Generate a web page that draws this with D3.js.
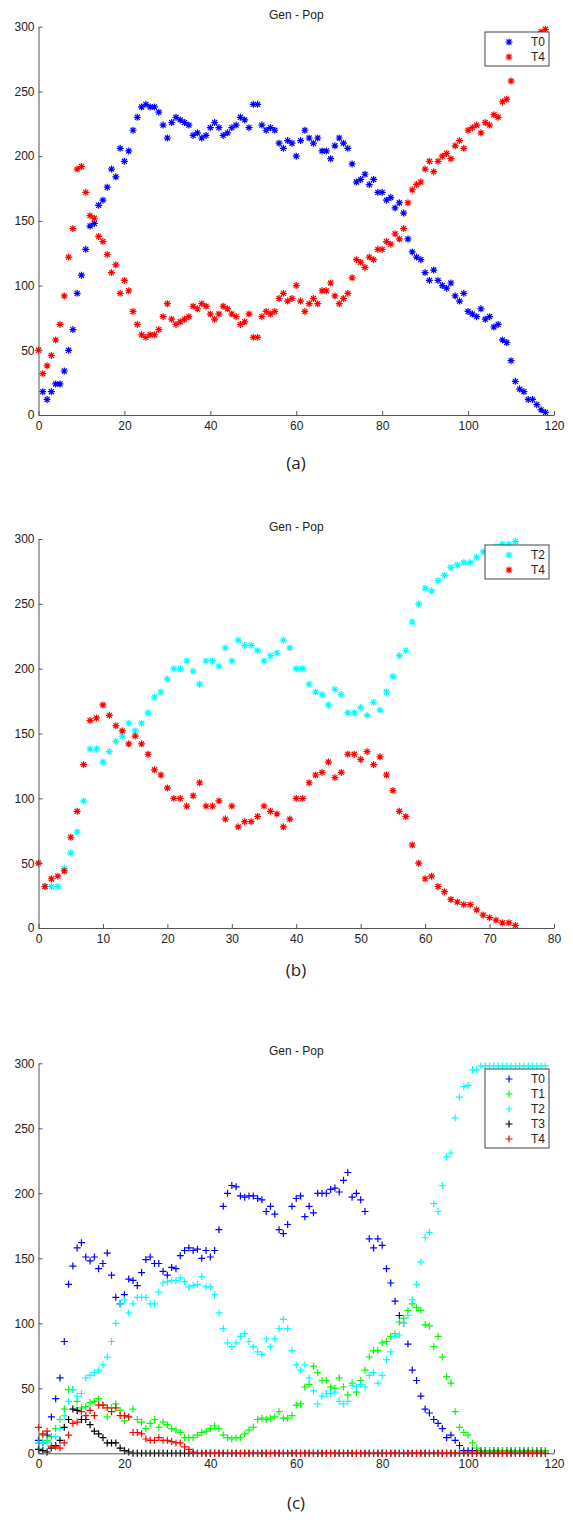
<!DOCTYPE html>
<html>
<head>
<meta charset="utf-8">
<script src="https://cdnjs.cloudflare.com/ajax/libs/d3/7.8.5/d3.min.js"></script>
<style>
    body { margin: 0; background: #fff; }
    svg { display: block; }
    text { font-family: "Liberation Sans", Arial, sans-serif; fill: #222; }
</style>
</head>
<body>
<svg id="chart"></svg>
<script>

// data (generation index = position in array, null = not plotted)

var yTicks = [0, 50, 100, 150, 200, 250, 300],
    xTicksA = [0, 20, 40, 60, 80, 100, 120],
    xTicksB = [0, 10, 20, 30, 40, 50, 60, 70, 80],
    xTicksC = [0, 20, 40, 60, 80, 100, 120];

var panelLabels = ["(a)", "(b)", "(c)"];
var chartTitle = "Gen - Pop";

// (a)
var a_T0 = [null, 18, 12, 18, 24, 24, 34, 50, 66, 94,
    108, 128, 146, 148, 162, 166, 176, 190, 184, 206,
    196, 204, 220, 230, 238, 240, 238, 238, 234, 224,
    214, 226, 230, 228, 226, 224, 216, 218, 214, 216,
    222, 226, 222, 216, 218, 222, 224, 230, 228, 222,
    240, 240, 224, 220, 222, 220, 210, 206, 212, 210,
    200, 212, 220, 214, 210, 214, 204, 204, 198, 208,
    214, 210, 206, 194, 180, 182, 186, 178, 182, 172,
    172, 166, 168, 160, 164, 156, 136, 126, 122, 120,
    110, 104, 112, 104, 100, 98, 102, 92, 88, 94,
    80, 78, 76, 82, 74, 76, 68, 70, 58, 56,
    42, 26, 20, 18, 12, 12, 8, 4, 2];

var a_T4 = [50, 32, 38, 46, 58, 70, 92, 122, 144, 190,
    192, 172, 154, 152, 138, 134, 124, 110, 116, 94,
    104, 96, 80, 70, 62, 60, 62, 62, 66, 76,
    86, 74, 70, 72, 74, 76, 84, 82, 86, 84,
    78, 74, 78, 84, 82, 78, 76, 70, 72, 78,
    60, 60, 76, 80, 78, 80, 90, 94, 88, 90,
    100, 88, 80, 86, 90, 86, 96, 96, 102, 92,
    86, 90, 94, 106, 120, 118, 114, 122, 120, 128,
    128, 134, 132, 140, 136, 144, 164, 174, 178, 180,
    190, 196, 188, 196, 200, 202, 198, 208, 212, 206,
    220, 222, 224, 218, 226, 224, 232, 230, 242, 244,
    258, 274, 278, 282, 284, 288, 292, 296, 298];

// (b)
var b_T2 = [null, 32, 32, 32, 46, 58, 74, 98, 138, 138,
    128, 136, 144, 148, 158, 152, 158, 166, 178, 182,
    192, 200, 200, 206, 198, 188, 206, 206, 202, 216,
    206, 222, 218, 218, 214, 206, 210, 212, 222, 216,
    200, 200, 188, 182, 180, 172, 184, 180, 166, 166,
    170, 164, 174, 168, 182, 194, 210, 214, 236, 250,
    262, 260, 268, 272, 278, 280, 282, 282, 286, 290,
    292, 294, 296, 296, 298];

var b_T4 = [50, 32, 38, 40, 44, 70, 90, 126, 160, 162,
    172, 164, 156, 152, 142, 148, 142, 134, 122, 118,
    108, 100, 100, 94, 102, 112, 94, 94, 98, 84,
    94, 78, 82, 82, 86, 94, 90, 88, 78, 84,
    100, 100, 112, 118, 120, 128, 116, 120, 134, 134,
    130, 136, 126, 132, 118, 106, 90, 86, 64, 50,
    38, 40, 32, 28, 22, 20, 18, 18, 14, 10,
    8, 6, 4, 4, 2];

// (c)
var c_T0 = [10, 8, 14, 28, 42, 58, 86, 130, 144, 158,
    162, 151, 148, 151, 142, 146, 154, 137, 120, 115,
    122, 134, 133, 129, 139, 149, 151, 146, 146, 140,
    137, 143, 142, 152, 156, 158, 156, 157, 150, 156,
    151, 156, 172, 190, 200, 206, 205, 198, 197, 198,
    198, 196, 195, 186, 190, 184, 172, 169, 176, 190,
    196, 198, 182, 190, 185, 200, 200, 200, 203, 204,
    201, 210, 216, 197, 200, 195, 186, 165, 158, 165,
    160, 142, 131, 117, 106, 100, 84, 64, 56, 44,
    34, 31, 26, 23, 19, 12, 14, 10, 6, 2,
    2, 2, 2, 2, 2, 2, 2, 2, 2, 2,
    2, 2, 2, 2, 2, 2, 2, 2, 2];

var c_T1 = [8, 14, 10, 13, 19, 26, 34, 49, 49, 40,
    35, 36, 39, 40, 42, 37, 28, 35, 38, 33,
    25, 28, 34, 26, 24, 19, 23, 26, 20, 24,
    22, 19, 18, 16, 12, 12, 12, 14, 16, 17,
    19, 21, 19, 14, 12, 11, 12, 12, 15, 18,
    20, 26, 27, 26, 27, 28, 32, 27, 27, 29,
    37, 38, 51, 53, 67, 62, 56, 56, 51, 50,
    58, 51, 45, 54, 47, 56, 64, 74, 79, 79,
    85, 86, 90, 92, 101, 104, 110, 115, 112, 110,
    99, 98, 82, 90, 74, 59, 54, 32, 20, 16,
    14, 8, 4, 2, 2, 2, 2, 2, 2, 2,
    2, 2, 2, 2, 2, 2, 2, 2, 2];

var c_T2 = [8, 8, 8, 6, 13, 19, 29, 40, 49, 44,
    46, 58, 60, 62, 64, 68, 74, 86, 100, 115,
    118, 108, 115, 120, 120, 120, 115, 115, 124, 131,
    132, 133, 133, 135, 132, 128, 129, 130, 136, 128,
    128, 122, 108, 96, 85, 82, 85, 90, 92, 86,
    82, 78, 76, 88, 82, 88, 96, 103, 96, 79,
    68, 64, 68, 58, 48, 38, 44, 46, 46, 47,
    40, 38, 40, 52, 51, 53, 51, 60, 62, 54,
    60, 72, 78, 90, 91, 100, 106, 118, 130, 147,
    166, 170, 192, 186, 206, 228, 231, 258, 274, 282,
    283, 295, 295, 298, 298, 298, 298, 298, 298, 298,
    298, 298, 298, 298, 298, 298, 298, 298, 298];

var c_T3 = [3, 2, 1, 4, 6, 10, 20, 26, 34, 33,
    26, 26, 22, 17, 15, 12, 8, 8, 8, 4,
    2, 1, 0, 0, 0, 0, 0, 0, 0, 0,
    0, 0, 0, 0, 0, 0, 0, 0, 0, 0,
    0, 0, 0, 0, 0, 0, 0, 0, 0, 0,
    0, 0, 0, 0, 0, 0, 0, 0, 0, 0,
    0, 0, 0, 0, 0, 0, 0, 0, 0, 0,
    0, 0, 0, 0, 0, 0, 0, 0, 0, 0,
    0, 0, 0, 0, 0, 0, 0, 0, 0, 0,
    0, 0, 0, 0, 0, 0, 0, 0, 0, 0,
    0, 0, 0, 0, 0, 0, 0, 0, 0, 0,
    0, 0, 0, 0, 0, 0, 0, 0, 0];

var c_T4 = [20, 15, 17, 5, 5, 4, 8, 14, 23, 24,
    32, 29, 33, 29, 37, 37, 35, 32, 35, 29,
    29, 28, 16, 16, 15, 11, 10, 10, 12, 10,
    10, 9, 8, 8, 5, 3, 1, 0, 0, 0,
    0, 0, 0, 0, 0, 0, 0, 0, 0, 0,
    0, 0, 0, 0, 0, 0, 0, 0, 0, 0,
    0, 0, 0, 0, 0, 0, 0, 0, 0, 0,
    0, 0, 0, 0, 0, 0, 0, 0, 0, 0,
    0, 0, 0, 0, 0, 0, 0, 0, 0, 0,
    0, 0, 0, 0, 0, 0, 0, 0, 0, 0,
    0, 0, 0, 0, 0, 0, 0, 0, 0, 0,
    0, 0, 0, 0, 0, 0, 0, 0, 0];

// layout

var width = 573,
    height = 1529,
    plotLeft = 38.5,
    plotRight = 554;

var colors = {
    T0: "#0000ff",
    T1: "#00ff00",
    T2: "#00ffff",
    T3: "#000000",
    T4: "#ff0000"
};

// matlab style markers
var starSymbol = {
    draw: function (ctx, size) {
        var r = Math.sqrt(size) / 2,
            d = r * 0.72;
        ctx.moveTo(-r, 0); ctx.lineTo(r, 0);
        ctx.moveTo(0, -r); ctx.lineTo(0, r);
        ctx.moveTo(-d, -d); ctx.lineTo(d, d);
        ctx.moveTo(-d, d); ctx.lineTo(d, -d);
    }
};

var plusSymbol = {
    draw: function (ctx, size) {
        var r = Math.sqrt(size) / 2;
        ctx.moveTo(-r, 0); ctx.lineTo(r, 0);
        ctx.moveTo(0, -r); ctx.lineTo(0, r);
    }
};

var panels = [{
        top: 26.7,
        bottom: 415,
        xMax: 120,
        xTicks: xTicksA,
        label: panelLabels[0],
        labelY: 463,
        symbol: starSymbol,
        series: [{ name: "T0", values: a_T0 }, { name: "T4", values: a_T4 }]
    },
    {
        top: 539,
        bottom: 928,
        xMax: 80,
        xTicks: xTicksB,
        label: panelLabels[1],
        labelY: 970,
        symbol: starSymbol,
        series: [{ name: "T2", values: b_T2 }, { name: "T4", values: b_T4 }]
    },
    {
        top: 1063.3,
        bottom: 1453.3,
        xMax: 120,
        xTicks: xTicksC,
        label: panelLabels[2],
        labelY: 1503,
        symbol: plusSymbol,
        series: [
            { name: "T0", values: c_T0 },
            { name: "T1", values: c_T1 },
            { name: "T2", values: c_T2 },
            { name: "T3", values: c_T3 },
            { name: "T4", values: c_T4 }
        ]
    }
];

var svg = d3.select("#chart")
    .attr("width", width)
    .attr("height", height);

svg.append("rect")
    .attr("width", width)
    .attr("height", height)
    .attr("fill", "#fff");

panels.forEach(function (p) {

    var x = d3.scaleLinear().domain([0, p.xMax]).range([plotLeft, plotRight]);
    var y = d3.scaleLinear().domain([0, 300]).range([p.bottom, p.top]);

    var g = svg.append("g");

    // points
    p.series.forEach(function (s) {
        var pts = s.values.map(function (v, i) {
            return { gen: i, val: v };
        }).filter(function (d) { return d.val !== null; });

        g.append("g").selectAll("path")
            .data(pts)
            .enter()
            .append("path")
            .attr("d", d3.symbol(p.symbol, 49)())
            .attr("transform", function (d) {
                return "translate(" + x(d.gen) + "," + y(d.val) + ")";
            })
            .attr("fill", "none")
            .attr("stroke", colors[s.name])
            .attr("stroke-width", 1.2);
    });

    // axes, ticks inward
    var xAxis = g.append("g")
        .attr("transform", "translate(0," + p.bottom + ")")
        .call(d3.axisBottom(x).tickValues(p.xTicks).tickSizeInner(-4).tickSizeOuter(0).tickPadding(6));

    var yAxis = g.append("g")
        .attr("transform", "translate(" + plotLeft + ",0)")
        .call(d3.axisLeft(y).tickValues(yTicks).tickSizeInner(-4).tickSizeOuter(0).tickPadding(4));

    [xAxis, yAxis].forEach(function (a) {
        a.attr("font-size", 12).attr("font-family", null);
        a.selectAll("path, line").attr("stroke", "#555");
        a.selectAll("text").attr("fill", "#222");
    });

    // title
    g.append("text")
        .attr("x", (plotLeft + plotRight) / 2)
        .attr("y", p.top - 8)
        .attr("text-anchor", "middle")
        .attr("font-size", 12)
        .text(chartTitle);

    // legend
    var n = p.series.length;
    var legend = g.append("g")
        .attr("transform", "translate(485," + Math.round(p.top + 5.5) + ")");

    legend.append("rect")
        .attr("width", 64)
        .attr("height", n * 15 + 4)
        .attr("fill", "#fff")
        .attr("stroke", "#444")
        .attr("stroke-width", 1);

    var row = legend.selectAll(".row")
        .data(p.series)
        .enter()
        .append("g")
        .attr("class", "row")
        .attr("transform", function (d, i) { return "translate(0," + (10 + i * 15) + ")"; });

    row.append("path")
        .attr("d", d3.symbol(p.symbol, 49)())
        .attr("transform", "translate(24,0)")
        .attr("fill", "none")
        .attr("stroke", function (d) { return colors[d.name]; })
        .attr("stroke-width", 1.2);

    row.append("text")
        .attr("x", 60)
        .attr("dy", "0.35em")
        .attr("text-anchor", "end")
        .attr("font-size", 12)
        .text(function (d) { return d.name; });

    // panel caption
    svg.append("text")
        .attr("x", 296)
        .attr("y", p.labelY)
        .attr("dy", "0.35em")
        .attr("text-anchor", "middle")
        .attr("font-size", 17)
        .style("font-family", "'Open Sans', sans-serif")
        .text(p.label);
});

</script>
</body>
</html>
